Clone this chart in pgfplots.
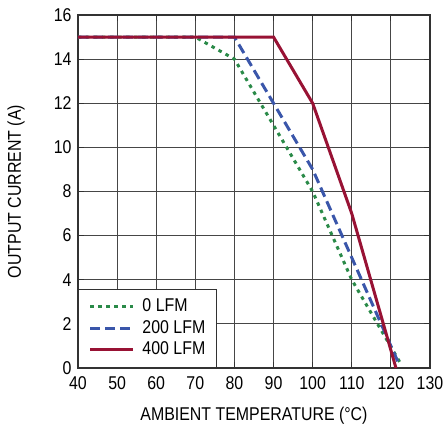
\documentclass[border=0pt]{standalone}
\usepackage{pgfplots}
\pgfplotsset{compat=1.18}
\usepackage{fontspec}
\setmainfont{Liberation Sans}[FakeStretch=0.86]
\definecolor{lfmzero}{RGB}{42,138,72}
\definecolor{lfmtwo}{RGB}{58,86,170}
\definecolor{lfmfour}{RGB}{152,18,52}
\definecolor{axisgray}{RGB}{50,50,50}
\definecolor{gridgray}{RGB}{70,70,70}
\newcommand{\lbl}{\fontsize{18.5}{21}\selectfont}

\begin{document}
\begin{tikzpicture}[x=1pt,y=1pt]
\useasboundingbox (-78,-58) rectangle (365,368);
\begin{axis}[
  at={(0,0)}, anchor=south west, scale only axis,
  width=352pt, height=353pt,
  xmin=40, xmax=130, ymin=0, ymax=16,
  xtick={40,50,...,130}, ytick={0,2,...,16},
  grid=major, major grid style={line width=1pt, color=gridgray},
  axis line style={line width=1.4pt, color=axisgray},
  tick align=inside, major tick length=6pt,
  tick style={line width=1pt, color=axisgray},
  ticklabel style={font=\lbl},
  /pgf/number format/assume math mode=true,
  xticklabel style={yshift=-5pt},
  yticklabel style={xshift=-3pt},
  xlabel={AMBIENT TEMPERATURE (°C)},
  ylabel={OUTPUT CURRENT (A)},
  label style={font=\lbl},
  xlabel style={at={(axis description cs:0.5,-0.150)}, anchor=base},
  ylabel style={at={(axis description cs:-0.176,0.5)}, anchor=center},
  legend style={at={(0,0)}, anchor=south west, draw=axisgray, line width=1pt,
    fill=white, font=\lbl, inner xsep=10pt, inner ysep=9pt, row sep=4pt,
    nodes={inner sep=1pt, text height=12.5pt, text depth=3pt}},
  legend cell align=left,
  legend image code/.code={\draw[#1] (0pt,0pt) -- (43pt,0pt); \path (50pt,0pt);},
]
\addplot[lfmzero, line width=3pt, dash pattern=on 3.5pt off 4.5pt]
  coordinates {(40,15)(70,15)(80,14)(90,11)(100,8)(110,4)(122.5,0.2)};
\addlegendentry{0 LFM}
\addplot[lfmtwo, line width=3pt, dash pattern=on 10pt off 5pt]
  coordinates {(40,15)(80,15)(90,12)(100,9)(110,5)(122,0.2)};
\addlegendentry{200 LFM}
\addplot[lfmfour, line width=3pt]
  coordinates {(40,15)(90,15)(100,12)(110,7)(121.3,0)};
\addlegendentry{400 LFM}
\end{axis}
\end{tikzpicture}
\end{document}
